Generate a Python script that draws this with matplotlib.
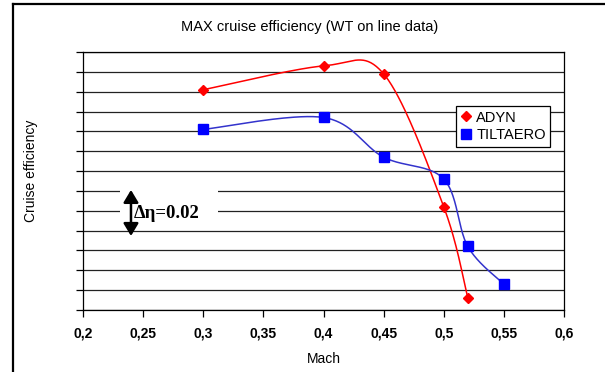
import numpy as np
import matplotlib
matplotlib.use("Agg")
import matplotlib.pyplot as plt
from matplotlib.lines import Line2D
from matplotlib.patches import Rectangle

plt.rcParams['font.family'] = ['Liberation Sans', 'DejaVu Sans']

# data (y in efficiency units, one gridline = 0.01)
mach_adyn = [0.30, 0.40, 0.45, 0.50, 0.52]
eff_adyn = [0.711, 0.723, 0.719, 0.652, 0.606]
mach_tilt = [0.30, 0.40, 0.45, 0.50, 0.52, 0.55]
eff_tilt = [0.691, 0.697, 0.677, 0.666, 0.632, 0.613]
xticks = [0.2, 0.25, 0.3, 0.35, 0.4, 0.45, 0.5, 0.55, 0.6]
xlabels = ['0,2', '0,25', '0,3', '0,35', '0,4', '0,45', '0,5', '0,55', '0,6']


def excel_smooth(x, y, n=40):
    # catmull-rom style bezier, like Excel's "smoothed line"
    p = np.column_stack([x, y])
    out = []
    for i in range(len(p) - 1):
        p0 = p[max(i - 1, 0)]
        p1 = p[i]
        p2 = p[i + 1]
        p3 = p[min(i + 2, len(p) - 1)]
        c1 = p1 + (p2 - p0) / 6
        c2 = p2 - (p3 - p1) / 6
        t = np.linspace(0, 1, n)[:, None]
        seg = ((1 - t) ** 3) * p1 + 3 * ((1 - t) ** 2) * t * c1 \
            + 3 * (1 - t) * t ** 2 * c2 + t ** 3 * p2
        out.append(seg if i == 0 else seg[1:])
    s = np.vstack(out)
    return s[:, 0], s[:, 1]


fig = plt.figure(figsize=(6.05, 3.72), dpi=100)
fig.patch.set_facecolor('white')
ax = fig.add_axes([83 / 605, 1 - 310 / 372, 481 / 605, 258 / 372])

ax.set_xlim(0.2, 0.6)
ax.set_ylim(0.60, 0.73)
yt = np.round(np.arange(0.60, 0.7301, 0.01), 3)
ax.set_yticks(yt)
ax.set_yticklabels([])
ax.set_xticks(xticks)
ax.set_xticklabels(xlabels, fontsize=10, fontweight='bold')
ax.tick_params(axis='both', direction='out', length=5, width=0.9, color='black')
ax.tick_params(axis='x', pad=7)
for y in yt:
    ax.axhline(y, color='#222222', lw=0.9, zorder=1)
for s in ax.spines.values():
    s.set_color('black')
    s.set_linewidth(0.9)

# smoothed lines + markers
xs, ys = excel_smooth(mach_adyn, eff_adyn)
ax.plot(xs, ys, color='#FF0000', lw=1.1, zorder=3)
ax.plot(mach_adyn, eff_adyn, ls='none', marker='D', ms=5, color='#FF0000', zorder=4)
xs, ys = excel_smooth(mach_tilt, eff_tilt)
ax.plot(xs, ys, color='#3333CC', lw=1.1, zorder=3)
ax.plot(mach_tilt, eff_tilt, ls='none', marker='s', ms=6.5, color='#0000FF', zorder=4)

# delta-eta scale annotation
ax.add_patch(Rectangle((0.2308, 0.6455), 0.0815, 0.021, facecolor='white',
                       edgecolor='none', zorder=2))
ax.annotate('', xy=(0.2399, 0.6373), xytext=(0.2399, 0.6605),
            arrowprops=dict(arrowstyle='<|-|>,head_length=0.75,head_width=0.45',
                            color='black', lw=1.8, shrinkA=0, shrinkB=0), zorder=5)
ax.text(0.2424, 0.6485, 'Δη=0.02', fontsize=13.5, fontweight='bold',
        family=['Liberation Serif', 'DejaVu Serif'], ha='left', va='center', zorder=5)

ax.set_xlabel('Mach', fontsize=10, labelpad=8)
ax.set_ylabel('Cruise efficiency', fontsize=10)
ax.yaxis.set_label_coords(-0.093, 0.54)

handles = [Line2D([], [], ls='none', marker='D', ms=5, color='#FF0000'),
           Line2D([], [], ls='none', marker='s', ms=6.5, color='#0000FF')]
leg = ax.legend(handles, ['ADYN', 'TILTAERO'], loc='upper left',
                bbox_to_anchor=(0.775, 0.79), fontsize=10.5, frameon=True,
                fancybox=False, edgecolor='black', framealpha=1,
                handlelength=0.8, handletextpad=0.3, borderpad=0.3,
                labelspacing=0.25, borderaxespad=0)
leg.get_frame().set_linewidth(0.9)
leg.set_zorder(6)

fig.text(310 / 605, 1 - 27 / 372, 'MAX cruise efficiency (WT on line data)',
         ha='center', va='center', fontsize=10.5)

# outer chart frame (cut at right and bottom)
fig.add_artist(Line2D([12.5 / 605, 12.5 / 605], [0, 1 - 4 / 372],
                      color='black', lw=1.6, transform=fig.transFigure))
fig.add_artist(Line2D([12.5 / 605, 1], [1 - 4 / 372, 1 - 4 / 372],
                      color='black', lw=1.6, transform=fig.transFigure))

fig.savefig('out.png', dpi=100)
